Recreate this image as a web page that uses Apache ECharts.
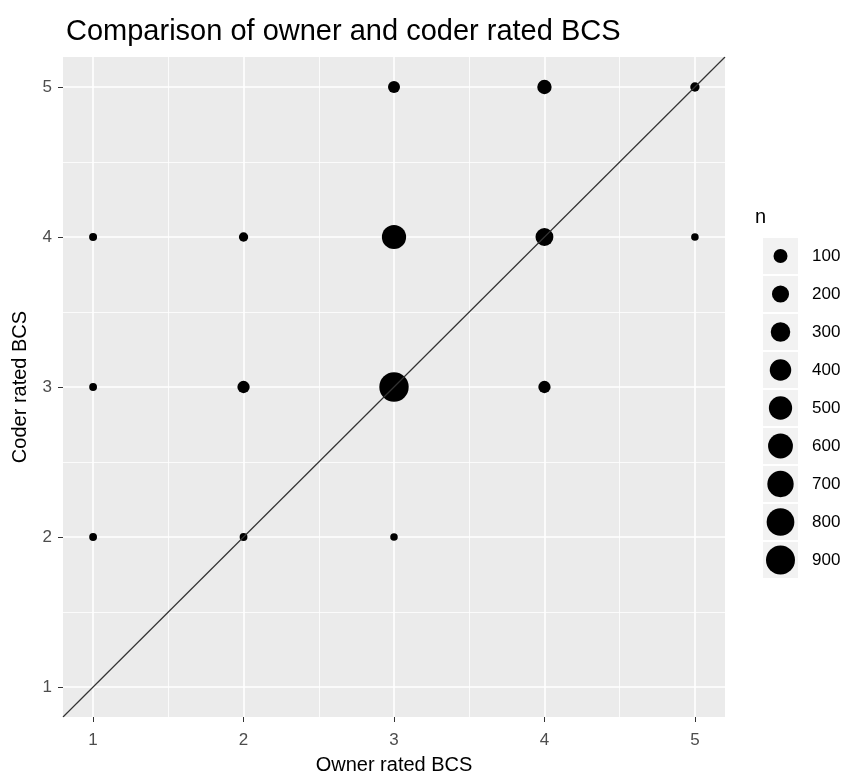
<!DOCTYPE html>
<html>
<head>
<meta charset="utf-8">
<script src="https://cdn.jsdelivr.net/npm/echarts@6/dist/echarts.min.js"></script>
<style>html,body{margin:0;padding:0;background:#fff;}#c{width:846px;height:780px;}</style>
</head>
<body>
<div id="c"></div>
<script>
// ---- data ----
const ownerBCS = [1, 1, 1, 2, 2, 2, 3, 3, 3, 3, 4, 4, 4, 5, 5];
const coderBCS = [2, 3, 4, 2, 3, 4, 2, 3, 4, 5, 3, 4, 5, 4, 5];
const counts   = [3, 3, 4, 3, 60, 14, 2, 930, 560, 55, 60, 230, 110, 2, 14];
const tickValues = [1, 2, 3, 4, 5];
const minorValues = [1.5, 2.5, 3.5, 4.5];
const axisLimits = [0.8, 5.2];
const legendBreaks = [100, 200, 300, 400, 500, 600, 700, 800, 900];

function dia(n) { return 6.5 + 0.75 * Math.sqrt(n); }

const pts = ownerBCS.map((x, i) => [x, coderBCS[i], counts[i]]);
const FONT = '"Liberation Sans", Arial, sans-serif';

const chart = echarts.init(document.getElementById('c'));
const gridLines = [];
minorValues.forEach(v => {
  gridLines.push({ xAxis: v, lineStyle: { width: 0.8 } });
  gridLines.push({ yAxis: v, lineStyle: { width: 0.8 } });
});
tickValues.forEach(v => {
  gridLines.push({ xAxis: v, lineStyle: { width: 1.6 } });
  gridLines.push({ yAxis: v, lineStyle: { width: 1.6 } });
});

chart.setOption({
  animation: false,
  backgroundColor: '#ffffff',
  title: [
    {
      text: 'Comparison of owner and coder rated BCS',
      left: 61, top: 12,
      textStyle: { fontFamily: FONT, fontSize: 29, fontWeight: 'normal', color: '#000' }
    },
    {
      text: 'n', left: 750, top: 202,
      textStyle: { fontFamily: FONT, fontSize: 20, fontWeight: 'normal', color: '#000' }
    }
  ],
  grid: [
    { left: 63, right: 121, top: 57, bottom: 62, backgroundColor: '#EBEBEB', show: true, borderWidth: 0 },
    { left: 763, width: 35, top: 237, height: 342, show: false }
  ],
  xAxis: [
    {
      type: 'value', gridIndex: 0, min: axisLimits[0], max: axisLimits[1],
      name: 'Owner rated BCS', nameLocation: 'middle', nameGap: 38,
      nameTextStyle: { fontFamily: FONT, fontSize: 20, color: '#000' },
      axisLine: { show: false },
      axisTick: { show: true, customValues: tickValues, length: 5, lineStyle: { color: '#333', width: 1 } },
      axisLabel: { customValues: tickValues, fontFamily: FONT, fontSize: 17, color: '#4D4D4D', margin: 15 },
      splitLine: { show: false }
    },
    {
      type: 'value', gridIndex: 1, min: 0, max: 1, show: false
    }
  ],
  yAxis: [
    {
      type: 'value', gridIndex: 0, min: axisLimits[0], max: axisLimits[1],
      name: 'Coder rated BCS', nameLocation: 'middle', nameGap: 33,
      nameTextStyle: { fontFamily: FONT, fontSize: 20, color: '#000' },
      axisLine: { show: false },
      axisTick: { show: true, customValues: tickValues, length: 5, lineStyle: { color: '#333', width: 1 } },
      axisLabel: { customValues: tickValues, fontFamily: FONT, fontSize: 17, color: '#4D4D4D', margin: 11 },
      splitLine: { show: false }
    },
    {
      type: 'category', gridIndex: 1, inverse: true, position: 'right',
      data: legendBreaks.map(String),
      axisLine: { show: false }, axisTick: { show: false }, splitLine: { show: false },
      axisLabel: { fontFamily: FONT, fontSize: 17, color: '#000', margin: 14 }
    }
  ],
  series: [
    {
      type: 'line', xAxisIndex: 0, yAxisIndex: 0, data: [], z: 1, silent: true,
      markLine: {
        silent: true, symbol: 'none', label: { show: false }, z: 1,
        lineStyle: { color: '#ffffff', type: 'solid' },
        data: gridLines, animation: false
      }
    },
    {
      type: 'scatter', xAxisIndex: 0, yAxisIndex: 0, z: 3,
      data: pts,
      symbol: 'circle',
      symbolSize: d => dia(d[2]),
      itemStyle: { color: '#000', opacity: 1 }
    },
    {
      type: 'line', xAxisIndex: 0, yAxisIndex: 0, z: 4, silent: true,
      data: [[axisLimits[0], axisLimits[0]], [axisLimits[1], axisLimits[1]]],
      symbol: 'none', lineStyle: { color: '#333333', width: 1.2 }
    },
    {
      type: 'scatter', xAxisIndex: 1, yAxisIndex: 1, z: 2, silent: true,
      data: legendBreaks.map(b => [0.5, String(b)]),
      symbol: 'rect', symbolSize: [35, 36],
      itemStyle: { color: '#F2F2F2', opacity: 1 }
    },
    {
      type: 'scatter', xAxisIndex: 1, yAxisIndex: 1, z: 3, silent: true,
      data: legendBreaks.map(b => [0.5, String(b), b]),
      symbol: 'circle', symbolSize: d => dia(d[2]),
      itemStyle: { color: '#000', opacity: 1 }
    }
  ]
});
</script>
</body>
</html>
